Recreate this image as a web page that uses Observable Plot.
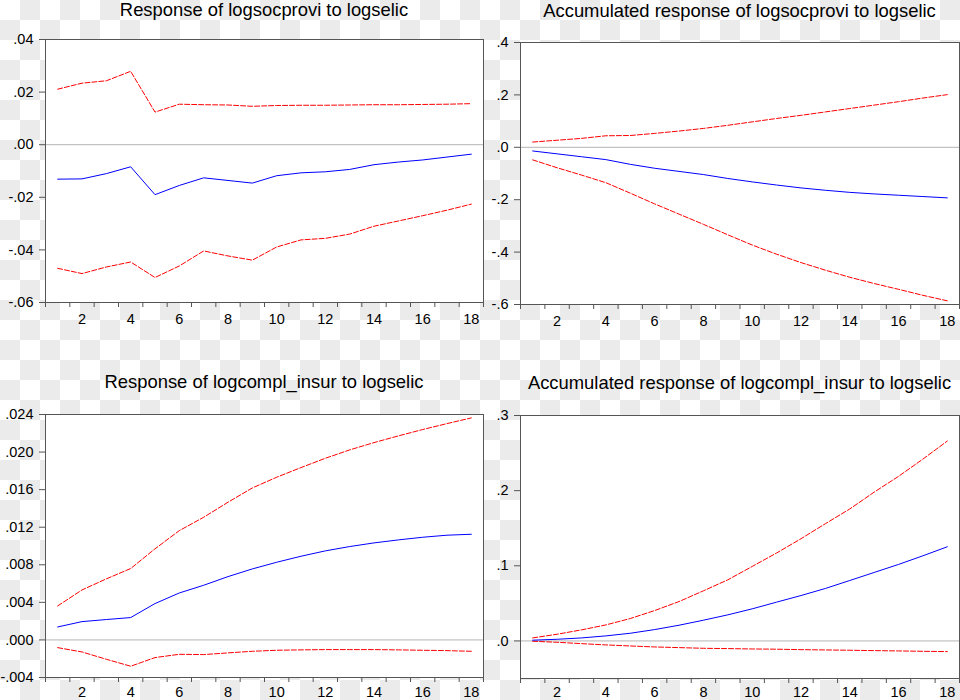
<!DOCTYPE html>
<html>
<head>
<meta charset="utf-8">
<script src="https://cdn.jsdelivr.net/npm/d3@7"></script>
<script src="https://cdn.jsdelivr.net/npm/@observablehq/plot@0.6"></script>
<style>
  html, body { margin: 0; padding: 0; }
  body { width: 960px; height: 700px; overflow: hidden;
    background: repeating-conic-gradient(#ebebeb 0 25%, #ffffff 0 50%) 0 0 / 40px 40px; }
  #wrap { position: relative; width: 960px; height: 700px; overflow: hidden; }
  .panel { position: absolute; }
  .title { position: absolute; white-space: nowrap; transform: translateX(-50%);
    font-family: "Liberation Sans", Arial, sans-serif; font-size: 18.4px; line-height: 18.4px; color: #000; }
</style>
</head>
<body>
<div id="wrap"></div>
<script>
// ---- data ----
const steps = [1, 2, 3, 4, 5, 6, 7, 8, 9, 10, 11, 12, 13, 14, 15, 16, 17, 18];
const xLabelTicks = [2, 4, 6, 8, 10, 12, 14, 16, 18];
const xMinorTicks = [0.5, 1.5, 2.5, 3.5, 4.5, 5.5, 6.5, 7.5, 8.5, 9.5, 10.5, 11.5, 12.5, 13.5, 14.5, 15.5, 16.5, 17.5, 18.5];

const titles = [
  "Response of logsocprovi to logselic",
  "Accumulated response of logsocprovi to logselic",
  "Response of logcompl_insur to logselic",
  "Accumulated response of logcompl_insur to logselic"
];

// Panel 1: Response of logsocprovi to logselic
const p1Response = [-0.0131, -0.0130, -0.0110, -0.0084, -0.0190, -0.0155, -0.0126, -0.0136, -0.0146, -0.0118, -0.0107, -0.0103, -0.0094, -0.0076, -0.0066, -0.0058, -0.0047, -0.0036];
const p1Upper = [0.0211, 0.0234, 0.0243, 0.0279, 0.0124, 0.0154, 0.0152, 0.0151, 0.0146, 0.0149, 0.0150, 0.0150, 0.0151, 0.0152, 0.0152, 0.0153, 0.0154, 0.0156];
const p1Lower = [-0.0470, -0.0490, -0.0465, -0.0446, -0.0505, -0.0461, -0.0404, -0.0423, -0.0439, -0.0389, -0.0362, -0.0356, -0.0340, -0.0310, -0.0290, -0.0270, -0.0249, -0.0226];
const p1YTicks = [-0.06, -0.04, -0.02, 0, 0.02, 0.04];

// Panel 2: Accumulated response of logsocprovi to logselic
const p2Response = [-0.014, -0.025, -0.036, -0.047, -0.065, -0.080, -0.092, -0.104, -0.119, -0.132, -0.144, -0.155, -0.164, -0.172, -0.178, -0.183, -0.188, -0.193];
const p2Upper = [0.020, 0.027, 0.034, 0.044, 0.045, 0.053, 0.062, 0.072, 0.084, 0.097, 0.110, 0.122, 0.135, 0.148, 0.161, 0.174, 0.188, 0.201];
const p2Lower = [-0.048, -0.078, -0.106, -0.135, -0.175, -0.216, -0.255, -0.294, -0.334, -0.373, -0.408, -0.440, -0.469, -0.496, -0.520, -0.542, -0.565, -0.586];
const p2YTicks = [-0.6, -0.4, -0.2, 0, 0.2, 0.4];

// Panel 3: Response of logcompl_insur to logselic
const p3Response = [0.00138, 0.00195, 0.00217, 0.00238, 0.00387, 0.00500, 0.00582, 0.00674, 0.00756, 0.00827, 0.00891, 0.00948, 0.00994, 0.01033, 0.01065, 0.01093, 0.01115, 0.01125];
const p3Upper = [0.00362, 0.00532, 0.00650, 0.00760, 0.00970, 0.01164, 0.01306, 0.01466, 0.01618, 0.01732, 0.01835, 0.01934, 0.02023, 0.02101, 0.02172, 0.02240, 0.02303, 0.02364];
const p3Lower = [-0.00082, -0.00128, -0.00206, -0.00280, -0.00188, -0.00153, -0.00156, -0.00138, -0.00121, -0.00110, -0.00106, -0.00103, -0.00103, -0.00103, -0.00106, -0.00110, -0.00114, -0.00121];
const p3YTicks = [-0.004, 0, 0.004, 0.008, 0.012, 0.016, 0.020, 0.024];

// Panel 4: Accumulated response of logcompl_insur to logselic
const p4Response = [0.0010, 0.0022, 0.0040, 0.0067, 0.0102, 0.0151, 0.0209, 0.0276, 0.0347, 0.0427, 0.0516, 0.0604, 0.0698, 0.0804, 0.0911, 0.1018, 0.1133, 0.1253];
const p4Upper = [0.0040, 0.0089, 0.0147, 0.0213, 0.0298, 0.0404, 0.0524, 0.0667, 0.0813, 0.0991, 0.1170, 0.1360, 0.1560, 0.1756, 0.1980, 0.2190, 0.2420, 0.2660];
const p4Lower = [-0.0004, -0.0018, -0.0036, -0.0053, -0.0067, -0.0080, -0.0089, -0.0098, -0.0102, -0.0107, -0.0110, -0.0116, -0.0120, -0.0124, -0.0129, -0.0133, -0.0138, -0.0142];
const p4YTicks = [0, 0.1, 0.2, 0.3];

// ---- drawing ----
const fmt = (n) => (d) => (d < 0 ? "-" : "") + Math.abs(d).toFixed(n).replace(/^0/, "");
const toRows = (arr) => steps.map((s, i) => ({step: s, v: arr[i]}));

function panel(cfg) {
  const frameW = cfg.R - cfg.L, frameH = cfg.B - cfg.T;
  const width = cfg.mL + frameW + cfg.mR;
  const height = cfg.mT + frameH + cfg.mB;
  const svg = Plot.plot({
    width, height,
    marginLeft: cfg.mL, marginRight: cfg.mR, marginTop: cfg.mT, marginBottom: cfg.mB,
    style: {background: "transparent", fontFamily: "'Liberation Sans', Arial, sans-serif", fontSize: "14.5px", color: "#000", overflow: "visible"},
    x: {domain: [0.5, 18.5]},
    y: {domain: cfg.yDomain},
    marks: [
      Plot.frame({fill: "#ffffff", stroke: "none"}),
      Plot.ruleY([0], {stroke: "#b4b4b4", strokeWidth: 1}),
      Plot.line(toRows(cfg.upper), {x: "step", y: "v", stroke: "#ff0000", strokeWidth: 1, strokeDasharray: "5,2"}),
      Plot.line(toRows(cfg.lower), {x: "step", y: "v", stroke: "#ff0000", strokeWidth: 1, strokeDasharray: "5,2"}),
      Plot.line(toRows(cfg.response), {x: "step", y: "v", stroke: "#0000ff", strokeWidth: 1}),
      Plot.frame({stroke: "#555555", fill: "none"}),
      Plot.axisY({ticks: cfg.yTicks, tickFormat: cfg.yFormat, tickSize: 6, tickPadding: 6, stroke: "#555555", label: null}),
      Plot.axisX({ticks: xMinorTicks, tickFormat: () => "", tickSize: 5, stroke: "#555555", label: null}),
      Plot.axisX({ticks: xLabelTicks, tickFormat: (d) => String(d), tickSize: 0, tickPadding: cfg.xPad, label: null})
    ]
  });
  svg.classList.add("panel");
  svg.style.left = cfg.left + "px";
  svg.style.top = cfg.top + "px";
  document.getElementById("wrap").appendChild(svg);

  const t = document.createElement("div");
  t.className = "title";
  t.textContent = cfg.title;
  t.style.left = ((cfg.L + cfg.R) / 2) + "px";
  t.style.top = (cfg.titleBaseline - 15.6) + "px";
  document.getElementById("wrap").appendChild(t);
}

// frame L/R/T/B are in page pixels; svg left/top + margins place the frame there
panel({title: titles[0], response: p1Response, upper: p1Upper, lower: p1Lower,
  yDomain: [-0.06, 0.04], yTicks: p1YTicks, yFormat: fmt(2), xPad: 11,
  L: 45, R: 483, T: 39, B: 302, left: 0, top: 0, mL: 45, mR: 7, mT: 39, mB: 38, titleBaseline: 16.4});

panel({title: titles[1], response: p2Response, upper: p2Upper, lower: p2Lower,
  yDomain: [-0.6, 0.4], yTicks: p2YTicks, yFormat: fmt(1), xPad: 11,
  L: 520, R: 959, T: 42, B: 304, left: 470, top: 0, mL: 50, mR: 1, mT: 42, mB: 36, titleBaseline: 17.2});

panel({title: titles[2], response: p3Response, upper: p3Upper, lower: p3Lower,
  yDomain: [-0.004, 0.024], yTicks: p3YTicks, yFormat: fmt(3), xPad: 9,
  L: 45, R: 483, T: 414, B: 677, left: 0, top: 370, mL: 45, mR: 7, mT: 44, mB: 23, titleBaseline: 388.3});

panel({title: titles[3], response: p4Response, upper: p4Upper, lower: p4Lower,
  yDomain: [-0.05, 0.3], yTicks: p4YTicks, yFormat: fmt(1), xPad: 8.5,
  L: 520, R: 959, T: 415, B: 678, left: 470, top: 370, mL: 50, mR: 1, mT: 45, mB: 22, titleBaseline: 390});
</script>
</body>
</html>
